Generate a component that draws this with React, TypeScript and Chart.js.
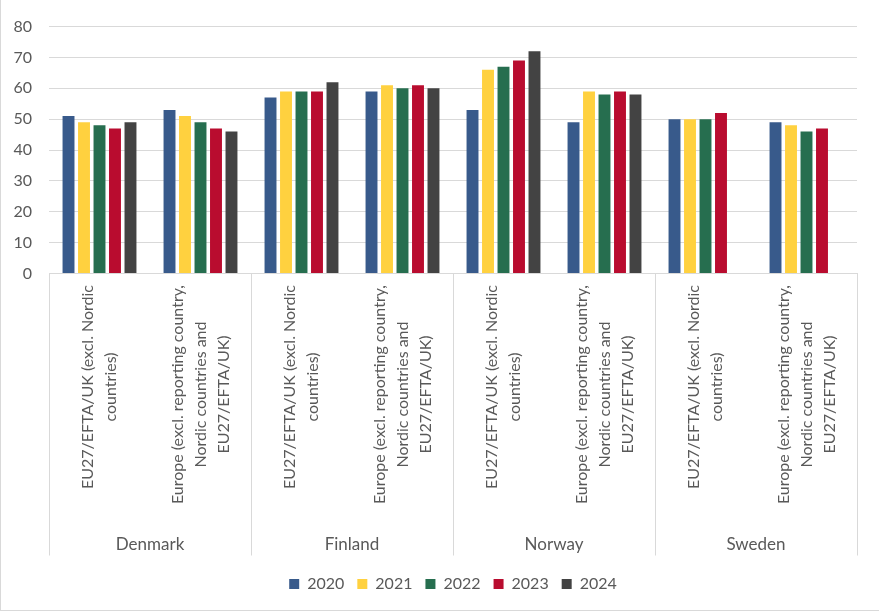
import React, { useEffect, useRef } from "react";
import { Chart, registerables } from "chart.js";

Chart.register(...registerables);

const years = ["2020", "2021", "2022", "2023", "2024"];
const countries = ["Denmark", "Finland", "Norway", "Sweden"];
const regionLines = [
  ["EU27/EFTA/UK (excl. Nordic", "countries)"],
  ["Europe (excl. reporting country,", "Nordic countries and", "EU27/EFTA/UK)"],
];
const categories = countries.flatMap(() => regionLines);

const values2020 = [51, 53, 57, 59, 53, 49, 50, 49];
const values2021 = [49, 51, 59, 61, 66, 59, 50, 48];
const values2022 = [48, 49, 59, 60, 67, 58, 50, 46];
const values2023 = [47, 47, 59, 61, 69, 59, 52, 47];
const values2024 = [49, 46, 62, 60, 72, 58, null, null];
const seriesValues = [values2020, values2021, values2022, values2023, values2024];
const seriesColors = ["#385a8b", "#ffd13f", "#266e4f", "#b90c2f", "#434343"];

const yMin = 0;
const yMax = 80;
const yStep = 10;

const FONT = "Lato";
const TEXT = "#595959";
const GRID = "#d9d9d9";

const groupPlugin = {
  id: "groupLabels",
  afterDraw(chart: any) {
    const { ctx } = chart;
    const x = chart.scales.x;
    const top = x.top;
    const n = chart.data.labels.length;
    const step = (x.right - x.left) / n;
    const perGroup = n / countries.length;
    ctx.save();
    ctx.strokeStyle = GRID;
    ctx.lineWidth = 1;
    for (let k = 0; k <= countries.length; k++) {
      const px = Math.round(x.left + k * perGroup * step) + 0.5;
      ctx.beginPath();
      ctx.moveTo(px, top);
      ctx.lineTo(px, top + 282);
      ctx.stroke();
    }
    ctx.fillStyle = TEXT;
    ctx.font = `16px ${FONT}`;
    const lineH = 23;
    for (let i = 0; i < n; i++) {
      const cx = x.getPixelForValue(i);
      const lines: string[] = chart.data.labels[i];
      const widest = Math.max(...lines.map((l) => ctx.measureText(l).width));
      const cy = top + 11.5 + widest / 2;
      lines.forEach((line, j) => {
        const lx = cx + (j - (lines.length - 1) / 2) * lineH;
        ctx.save();
        ctx.translate(lx, cy);
        ctx.rotate(-Math.PI / 2);
        ctx.textAlign = "center";
        ctx.textBaseline = "middle";
        ctx.fillText(line, 0, 0);
        ctx.restore();
      });
    }
    ctx.font = `17px ${FONT}`;
    ctx.textAlign = "center";
    ctx.textBaseline = "middle";
    countries.forEach((c, k) => {
      const gx = x.left + (k + 0.5) * perGroup * step;
      ctx.fillText(c, gx, top + 271.5);
    });
    ctx.restore();
  },
};

export default function App() {
  const ref = useRef<HTMLCanvasElement>(null);
  useEffect(() => {
    if (!ref.current) return;
    const chart = new Chart(ref.current, {
      type: "bar",
      data: {
        labels: categories as any,
        datasets: years.map((y, i) => ({
          label: y,
          data: seriesValues[i] as any,
          backgroundColor: seriesColors[i],
          borderWidth: 0,
          categoryPercentage: 0.767,
          barPercentage: 0.77,
        })),
      },
      options: {
        animation: false,
        responsive: true,
        maintainAspectRatio: false,
        layout: { padding: { top: 23, left: 0, right: 22, bottom: 10 } },
        plugins: {
          legend: {
            position: "bottom",
            fullSize: false,
            labels: {
              boxWidth: 10,
              boxHeight: 10,
              padding: 13,
              color: TEXT,
              font: { family: FONT, size: 16 },
            },
          },
          tooltip: { enabled: false },
        },
        scales: {
          x: {
            grid: { display: false },
            border: { display: true, color: GRID, width: 1 },
            ticks: { display: false },
            afterFit: (scale: any) => {
              scale.height = 289.5;
            },
          },
          y: {
            min: yMin,
            max: yMax,
            ticks: {
              stepSize: yStep,
              padding: 17,
              color: TEXT,
              font: { family: FONT, size: 16 },
            },
            grid: { color: GRID, lineWidth: 1, drawTicks: false },
            border: { display: false },
            afterFit: (scale: any) => {
              scale.width = 49;
            },
          },
        },
      },
      plugins: [groupPlugin],
    });
    return () => chart.destroy();
  }, []);

  return (
    <div
      style={{
        position: "fixed",
        left: 0,
        top: 0,
        width: 879,
        height: 612,
        background: "#fff",
      }}
    >
      <div
        style={{
          position: "absolute",
          left: 0,
          top: 0,
          width: 878,
          height: 610,
          borderLeft: `1px solid ${GRID}`,
          borderBottom: `1px solid ${GRID}`,
        }}
      />
      <div style={{ position: "absolute", left: 0, top: 0, width: 879, height: 612 }}>
        <canvas ref={ref} />
      </div>
    </div>
  );
}
